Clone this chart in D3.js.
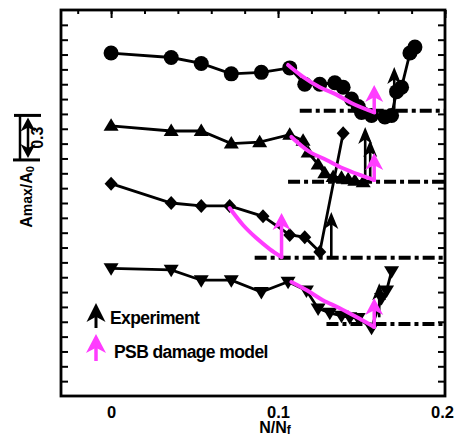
<!DOCTYPE html>
<html>
<head>
<meta charset="utf-8">
<script src="https://cdn.jsdelivr.net/npm/d3@7"></script>
<style>
  body { margin: 0; background: #fff; }
  svg text { font-family: Arial, "Liberation Sans", Helvetica, sans-serif; font-weight: bold; fill: #000; }
</style>
</head>
<body>
<div id="chart"></div>
<script>
// ---- data (N/Nf, Amax/A0 with vertical offsets as in the figure) ----
var circleN = [0, 0.036, 0.054, 0.072, 0.090, 0.107, 0.116, 0.125, 0.134, 0.139, 0.144, 0.148, 0.150, 0.156, 0.164, 0.168, 0.171, 0.174, 0.179, 0.182];
var circleA = [2.21, 2.18, 2.14, 2.07, 2.08, 2.11, 2.00, 2.00, 2.01, 1.98, 1.90, 1.85, 1.81, 1.79, 1.78, 1.79, 1.95, 1.98, 2.21, 2.25];

var triN = [0, 0.036, 0.054, 0.072, 0.089, 0.107, 0.115, 0.118, 0.124, 0.128, 0.133, 0.138, 0.142, 0.146, 0.151];
var triA = [1.72, 1.685, 1.685, 1.60, 1.61, 1.66, 1.62, 1.54, 1.46, 1.40, 1.375, 1.37, 1.36, 1.35, 1.34];

var diaN = [0, 0.036, 0.054, 0.071, 0.091, 0.107, 0.116, 0.125, 0.139];
var diaA = [1.33, 1.20, 1.18, 1.18, 1.11, 0.985, 0.97, 0.87, 1.67];

var downN = [0, 0.036, 0.054, 0.072, 0.090, 0.106, 0.117, 0.124, 0.131, 0.138, 0.143, 0.148, 0.156, 0.162, 0.165, 0.168];
var downA = [0.76, 0.75, 0.68, 0.68, 0.60, 0.67, 0.61, 0.49, 0.46, 0.44, 0.43, 0.425, 0.36, 0.56, 0.61, 0.74];

// PSB damage model curves
var circleModelN = [0.106, 0.115, 0.125, 0.135, 0.1445, 0.1576];
var circleModelA = [2.13, 2.05, 1.98, 1.93, 1.87, 1.81];
var triModelN = [0.108, 0.119, 0.129, 0.1385, 0.149, 0.1576];
var triModelA = [1.645, 1.544, 1.49, 1.436, 1.389, 1.355];
var diaModelN = [0.071, 0.079, 0.087, 0.095, 0.1021];
var diaModelA = [1.166, 1.052, 0.964, 0.890, 0.836];
var downModelN = [0.108, 0.117, 0.1266, 0.1367, 0.147, 0.1576];
var downModelA = [0.668, 0.614, 0.547, 0.493, 0.432, 0.365];

// failure thresholds (dash-dot lines)
var limitStart = [0.113, 0.106, 0.086, 0.129];
var limitA = [1.822, 1.343, 0.832, 0.385];

// model predictions (magenta arrows)
var modelArrowN = [0.1576, 0.1576, 0.1021, 0.1576];
var modelArrowBase = [1.81, 1.355, 0.836, 0.365];
var modelArrowTip = [1.995, 1.537, 1.133, 0.56];

// experiment (black arrows)
var expArrowN = [0.1696, 0.1522, 0.1552, 0.1319, 0.1606];
var expArrowBase = [1.786, 1.341, 1.341, 0.836, 0.43];
var expArrowTip = [2.116, 1.712, 1.624, 1.139, 0.66];

var xTicksMinor = d3.range(-0.02, 0.201, 0.02);
var xTicksMajor = [0, 0.1, 0.2];
var yTicks = d3.range(0, 2.45, 0.1);

var W = 455, H = 438;
var MAGENTA = '#ff3cff';

var svg = d3.select('#chart').append('svg')
  .attr('width', W)
  .attr('height', H);

var x = d3.scaleLinear().domain([-0.03, 0.2]).range([61, 445]);
var y = d3.scaleLinear().domain([-0.1, 2.5]).range([396, 10]);

// ---- axes ----
function cleanAxis(g) {
  g.select('.domain').remove();
  g.selectAll('line').attr('stroke', '#000').attr('stroke-width', 2);
}

svg.append('g').attr('transform', 'translate(0,10)')
  .call(d3.axisTop(x).tickValues(xTicksMinor).tickSize(-4).tickFormat(''))
  .call(cleanAxis);
svg.append('g').attr('transform', 'translate(0,10)')
  .call(d3.axisTop(x).tickValues(xTicksMajor).tickSize(-8).tickFormat(''))
  .call(cleanAxis);

var xLabels = svg.append('g').attr('transform', 'translate(0,396)')
  .call(d3.axisBottom(x).tickValues(xTicksMajor).tickSize(0).tickPadding(10)
    .tickFormat(function(d) { return d === 0 ? '0' : String(d); }))
  .call(cleanAxis);
xLabels.attr('font-size', null).attr('font-family', null);
xLabels.selectAll('text').attr('font-size', 16.5)
  .attr('dx', function(d) { return d === 0.2 ? -3 : 0; });

svg.append('g').attr('transform', 'translate(61,0)')
  .call(d3.axisLeft(y).tickValues(yTicks).tickSize(-7).tickFormat(''))
  .call(cleanAxis);
svg.append('g').attr('transform', 'translate(445,0)')
  .call(d3.axisRight(y).tickValues(yTicks).tickSize(-7).tickFormat(''))
  .call(cleanAxis);

svg.append('rect')
  .attr('x', x(-0.03)).attr('y', y(2.5))
  .attr('width', x(0.2) - x(-0.03)).attr('height', y(-0.1) - y(2.5))
  .attr('fill', 'none').attr('stroke', '#000').attr('stroke-width', 2.8);

// ---- threshold lines ----
svg.append('g').selectAll('line')
  .data(d3.zip(limitStart, limitA))
  .enter().append('line')
  .attr('x1', function(d) { return x(d[0]); })
  .attr('x2', x(0.2))
  .attr('y1', function(d) { return y(d[1]); })
  .attr('y2', function(d) { return y(d[1]); })
  .attr('stroke', '#000').attr('stroke-width', 4)
  .attr('stroke-dasharray', '12,4,4,4');

// ---- experimental series ----
var line = d3.line()
  .x(function(d) { return x(d[0]); })
  .y(function(d) { return y(d[1]); });

var markers = {
  circle: 'M-7.5,0A7.5,7.5 0 1,0 7.5,0A7.5,7.5 0 1,0 -7.5,0Z',
  up: 'M0,-7.5L7.5,5L-7.5,5Z',
  diamond: 'M0,-7L6.5,0L0,7L-6.5,0Z',
  down: 'M0,7.5L7.5,-5L-7.5,-5Z'
};

var series = [
  { pts: d3.zip(circleN, circleA), shape: 'circle' },
  { pts: d3.zip(triN, triA), shape: 'up' },
  { pts: d3.zip(diaN, diaA), shape: 'diamond' },
  { pts: d3.zip(downN, downA), shape: 'down' }
];

series.forEach(function(s) {
  var g = svg.append('g');
  g.append('path').attr('d', line(s.pts))
    .attr('fill', 'none').attr('stroke', '#000').attr('stroke-width', 2.8);
  g.selectAll('path.mk')
    .data(s.pts)
    .enter().append('path')
    .attr('class', 'mk')
    .attr('d', markers[s.shape])
    .attr('transform', function(d) { return 'translate(' + x(d[0]) + ',' + y(d[1]) + ')'; })
    .attr('fill', '#000');
});

// ---- arrows ----
function arrow(g, px, pBase, pTip, color, w, h, sw) {
  g.append('line')
    .attr('x1', px).attr('x2', px)
    .attr('y1', pBase).attr('y2', pTip + h * 0.6)
    .attr('stroke', color).attr('stroke-width', sw);
  g.append('path')
    .attr('d', 'M' + px + ',' + pTip +
      'L' + (px + w / 2) + ',' + (pTip + h) +
      'L' + px + ',' + (pTip + h * 0.72) +
      'L' + (px - w / 2) + ',' + (pTip + h) + 'Z')
    .attr('fill', color);
}

var expG = svg.append('g');
expArrowN.forEach(function(n, i) {
  arrow(expG, x(n), y(expArrowBase[i]), y(expArrowTip[i]), '#000', 14, 17, 2.6);
});

// ---- model curves ----
var curve = d3.line()
  .curve(d3.curveCatmullRom)
  .x(function(d) { return x(d[0]); })
  .y(function(d) { return y(d[1]); });

var models = [
  d3.zip(circleModelN, circleModelA),
  d3.zip(triModelN, triModelA),
  d3.zip(diaModelN, diaModelA),
  d3.zip(downModelN, downModelA)
];

var modelG = svg.append('g');
models.forEach(function(m, i) {
  modelG.append('path')
    .attr('d', curve(m))
    .attr('fill', 'none').attr('stroke', MAGENTA).attr('stroke-width', 4)
    .attr('stroke-linecap', 'round');
  arrow(modelG, x(modelArrowN[i]), y(modelArrowBase[i]) + 1.5, y(modelArrowTip[i]), MAGENTA, 18, 17, 3.5);
});

// ---- legend ----
var leg = svg.append('g');
arrow(leg, 96, 328, 303, '#000', 19, 19, 3);
arrow(leg, 96, 361, 334, MAGENTA, 20, 19, 3.5);
leg.append('text').attr('x', 110).attr('y', 324)
  .attr('font-size', 17.5).attr('letter-spacing', -0.6)
  .text('Experiment');
leg.append('text').attr('x', 114).attr('y', 358)
  .attr('font-size', 17.5).attr('letter-spacing', -0.6)
  .text('PSB damage model');

// ---- axis titles ----
var xt = svg.append('text')
  .attr('x', 275).attr('y', 433)
  .attr('text-anchor', 'middle').attr('font-size', 16);
xt.append('tspan').text('N/N');
xt.append('tspan').attr('font-size', 12).attr('dy', 1).text('f');

var yt = svg.append('text')
  .attr('transform', 'translate(32,197) rotate(-90)')
  .attr('text-anchor', 'middle').attr('font-size', 16);
yt.append('tspan').text('A');
yt.append('tspan').attr('font-size', 14).text('max');
yt.append('tspan').text('/A');
yt.append('tspan').attr('font-size', 11).attr('dy', 2).text('0');

// ---- 0.3 scale bar ----
var sbTop = y(1.79), sbBot = y(1.49);
var sb = svg.append('g').attr('stroke', '#000');
sb.append('line').attr('x1', 14).attr('x2', 41).attr('y1', sbTop).attr('y2', sbTop).attr('stroke-width', 3);
sb.append('line').attr('x1', 13).attr('x2', 40).attr('y1', sbBot).attr('y2', sbBot).attr('stroke-width', 3);
sb.append('line').attr('x1', 20).attr('x2', 20).attr('y1', sbTop).attr('y2', sbBot).attr('stroke-width', 2.5);
sb.append('line').attr('x1', 28).attr('x2', 28).attr('y1', sbTop + 8).attr('y2', sbBot - 8).attr('stroke-width', 2.5);
sb.append('path').attr('stroke', 'none').attr('fill', '#000')
  .attr('d', 'M28,' + (sbTop + 2) + 'L35.5,' + (sbTop + 16) + 'L28,' + (sbTop + 12) + 'L20.5,' + (sbTop + 16) + 'Z');
sb.append('path').attr('stroke', 'none').attr('fill', '#000')
  .attr('d', 'M28,' + (sbBot - 2) + 'L35.5,' + (sbBot - 16) + 'L28,' + (sbBot - 12) + 'L20.5,' + (sbBot - 16) + 'Z');
svg.append('text')
  .attr('transform', 'translate(43,' + ((sbTop + sbBot) / 2) + ') rotate(-90)')
  .attr('text-anchor', 'middle').attr('font-size', 16)
  .text('0.3');
</script>
</body>
</html>
